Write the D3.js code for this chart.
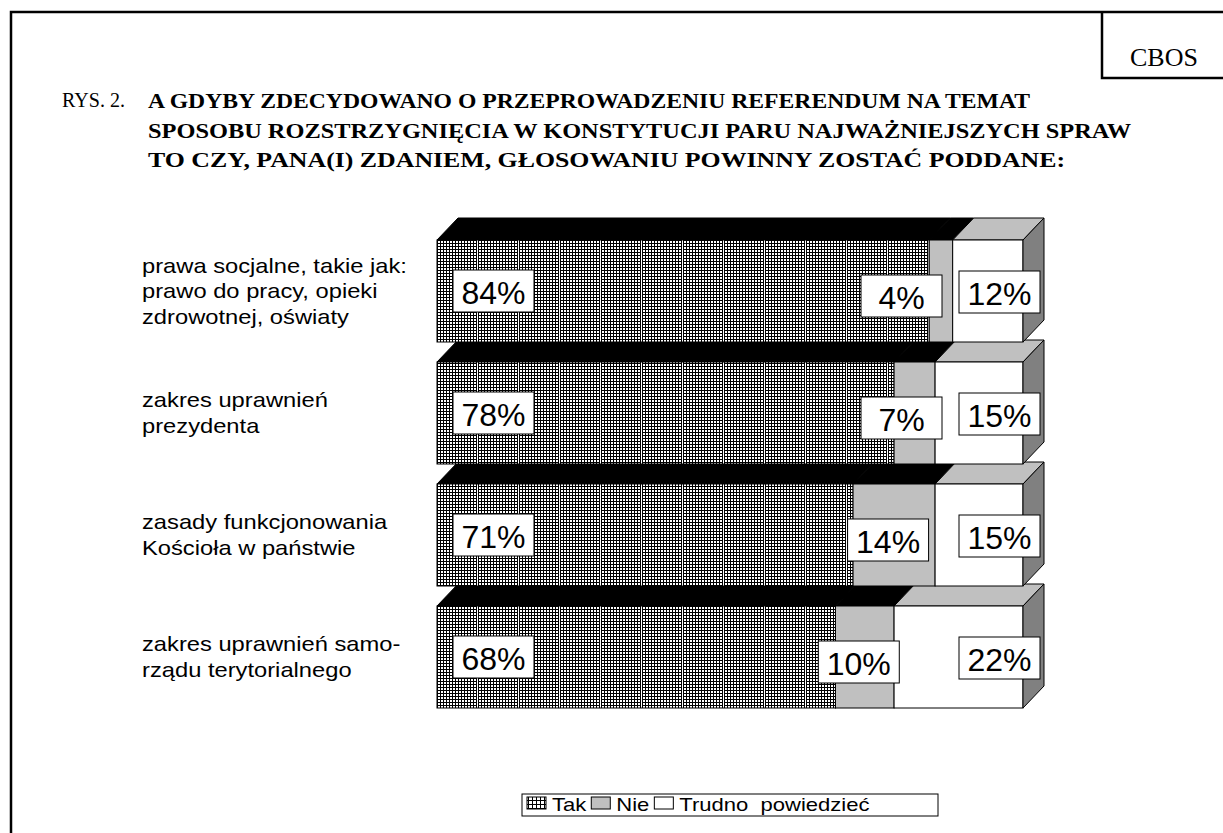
<!DOCTYPE html>
<html>
<head>
<meta charset="utf-8">
<script src="https://cdn.jsdelivr.net/npm/d3@7"></script>
<style>
  body { margin: 0; background: #fff; }
</style>
</head>
<body>
<div id="chart"></div>
<script>
// Referendum question — stacked 3D bars, CBOS style

const categories = [
    ['prawa socjalne, takie jak:', 'prawo do pracy, opieki', 'zdrowotnej, oświaty'],
    ['zakres uprawnień', 'prezydenta'],
    ['zasady funkcjonowania', 'Kościoła w państwie'],
    ['zakres uprawnień samo-', 'rządu terytorialnego']
];
const seriesNames = ['Tak', 'Nie', 'Trudno  powiedzieć'];
const tak = [84, 78, 71, 68];
const nie = [4, 7, 14, 10];
const trudno = [12, 15, 15, 22];
const titlePrefix = 'RYS. 2.';
const titleLines = [
    'A GDYBY ZDECYDOWANO O PRZEPROWADZENIU REFERENDUM NA TEMAT',
    'SPOSOBU ROZSTRZYGNIĘCIA W KONSTYTUCJI PARU NAJWAŻNIEJSZYCH SPRAW',
    'TO CZY, PANA(I) ZDANIEM, GŁOSOWANIU POWINNY ZOSTAĆ PODDANE:'
];
const sourceLabel = 'CBOS';

(function () {
    const W = 1223, H = 833;
    const depthX = 21, depthY = 22;
    const serif = '"Liberation Serif", "Times New Roman", serif';
    const sans = 'Arial, "Liberation Sans", sans-serif';

    const svg = d3.select('#chart').append('svg')
        .attr('width', W).attr('height', H)
        .style('display', 'block');

    const defs = svg.append('defs');
    // fine grid used for "Tak", with the faint tiling seam every ~41px
    const pat = defs.append('pattern')
        .attr('id', 'grid').attr('patternUnits', 'userSpaceOnUse')
        .attr('x', 437).attr('y', 0).attr('width', 41).attr('height', 3);
    pat.append('rect').attr('width', 41).attr('height', 3).attr('fill', '#fff');
    pat.append('rect').attr('width', 40).attr('height', 1).attr('fill', '#000');
    d3.range(0, 40, 3).forEach(x => {
        pat.append('rect').attr('x', x).attr('width', 1).attr('height', 3).attr('fill', '#000');
    });
    const lpat = defs.append('pattern')
        .attr('id', 'gridSmall').attr('patternUnits', 'userSpaceOnUse')
        .attr('width', 4).attr('height', 4);
    lpat.append('rect').attr('width', 4).attr('height', 4).attr('fill', '#fff');
    lpat.append('rect').attr('width', 4).attr('height', 1).attr('fill', '#000');
    lpat.append('rect').attr('width', 1).attr('height', 4).attr('fill', '#000');

    // Frame + CBOS box
    svg.append('path')
        .attr('d', `M11,${H} L11,12 L${W},12`)
        .attr('fill', 'none').attr('stroke', '#000').attr('stroke-width', 2.5);
    svg.append('path')
        .attr('d', `M1102,12 L1102,78 L${W},78`)
        .attr('fill', 'none').attr('stroke', '#000').attr('stroke-width', 2.5);
    svg.append('text')
        .attr('x', 1164).attr('y', 66)
        .attr('text-anchor', 'middle')
        .attr('font-family', serif)
        .attr('font-size', '26px')
        .text(sourceLabel);

    // Title (the scan is stretched horizontally, so fit each line to its width)
    svg.append('text')
        .attr('x', 62).attr('y', 107)
        .attr('font-family', serif)
        .attr('font-size', '20px')
        .attr('textLength', 63).attr('lengthAdjust', 'spacingAndGlyphs')
        .text(titlePrefix);
    const titleWidths = [882, 983, 917];
    titleLines.forEach((line, i) => {
        svg.append('text')
            .attr('x', 148).attr('y', 108 + i * 29.5)
            .attr('font-family', serif)
            .attr('font-weight', 'bold')
            .attr('font-size', '20px')
            .attr('textLength', titleWidths[i]).attr('lengthAdjust', 'spacingAndGlyphs')
            .text(line);
    });

    // Scales
    const x = d3.scaleLinear().domain([0, 100]).range([437, 1023]);
    const y = d3.scaleBand()
        .domain(d3.range(categories.length))
        .range([240, 708])
        .paddingInner(20 / 122)
        .paddingOuter(0);

    const series = [tak, nie, trudno];
    const stacked = categories.map((_, i) => {
        let acc = 0;
        return series.map((s, k) => {
            const seg = { k, i, v: s[i], x0: acc, x1: acc + s[i] };
            acc += s[i];
            return seg;
        });
    });

    const frontFill = ['url(#grid)', '#c0c0c0', '#fff'];
    const topFill = ['#000', '#000', '#c0c0c0'];
    const sideFill = '#808080';

    // bottom rows first so upper bars overlap the top faces below them
    const rows = svg.append('g');
    d3.range(categories.length).reverse().forEach(i => {
        const g = rows.append('g');
        const y0 = y(i), bh = y.bandwidth();
        stacked[i].forEach(seg => {
            const xa = x(seg.x0), xb = x(seg.x1);
            g.append('path')
                .attr('d', `M${xa},${y0} L${xa + depthX},${y0 - depthY} L${xb + depthX},${y0 - depthY} L${xb},${y0} Z`)
                .attr('fill', topFill[seg.k])
                .attr('stroke', '#000').attr('stroke-width', 1);
        });
        stacked[i].forEach(seg => {
            g.append('rect')
                .attr('x', x(seg.x0)).attr('y', y0)
                .attr('width', x(seg.x1) - x(seg.x0)).attr('height', bh)
                .attr('fill', frontFill[seg.k])
                .attr('stroke', '#000').attr('stroke-width', 1);
        });
        const last = stacked[i][stacked[i].length - 1];
        const xe = x(last.x1);
        g.append('path')
            .attr('d', `M${xe},${y0} L${xe + depthX},${y0 - depthY} L${xe + depthX},${y0 + bh - depthY} L${xe},${y0 + bh} Z`)
            .attr('fill', sideFill)
            .attr('stroke', '#000').attr('stroke-width', 1);
    });

    // Value labels in white boxes
    const labels = svg.append('g')
        .attr('font-family', sans)
        .attr('font-size', '32px');
    const boxW = 81, boxH = 42;
    stacked.forEach(row => {
        const mid = y(row[0].i) + y.bandwidth() / 2;
        const trLeft = x(100) + 17 - boxW;
        row.forEach(seg => {
            let cx, cy;
            if (seg.k === 0) {
                cx = x(0) + 16 + boxW / 2; cy = mid;
            } else if (seg.k === 1) {
                cx = Math.min((x(seg.x0) + x(seg.x1)) / 2 - 6, trLeft - 17 - boxW / 2);
                cy = mid + 5;
            } else {
                cx = trLeft + boxW / 2; cy = mid + 1;
            }
            const lg = labels.append('g');
            lg.append('rect')
                .attr('x', cx - boxW / 2).attr('y', cy - boxH / 2)
                .attr('width', boxW).attr('height', boxH)
                .attr('fill', '#fff').attr('stroke', '#000').attr('stroke-width', 1);
            lg.append('text')
                .attr('x', cx).attr('y', cy + 13)
                .attr('text-anchor', 'middle')
                .text(seg.v + '%');
        });
    });

    // Category labels
    const sx = 1.13;
    const cat = svg.append('g')
        .attr('font-family', sans)
        .attr('font-size', '21px')
        .attr('fill', '#000');
    categories.forEach((lines, i) => {
        const cy = y(i) + y.bandwidth() / 2;
        const lh = 25.5;
        const first = cy - (lines.length - 1) * lh / 2 + 7;
        lines.forEach((l, j) => {
            cat.append('text')
                .attr('transform', `translate(142,${first + j * lh}) scale(${sx},1)`)
                .text(l);
        });
    });

    // Legend
    const leg = svg.append('g')
        .attr('font-family', sans)
        .attr('font-size', '19px');
    leg.append('rect')
        .attr('x', 522).attr('y', 794).attr('width', 416).attr('height', 22)
        .attr('fill', '#fff').attr('stroke', '#000').attr('stroke-width', 1);
    const swFill = ['url(#gridSmall)', '#c0c0c0', '#fff'];
    const lsx = 1.16;
    let lx = 527;
    seriesNames.forEach((name, k) => {
        leg.append('rect')
            .attr('x', lx).attr('y', 797).attr('width', 19).attr('height', 12)
            .attr('fill', swFill[k]).attr('stroke', '#000').attr('stroke-width', 1);
        const t = leg.append('text')
            .attr('transform', `translate(${lx + 25},811) scale(${lsx},1)`)
            .style('white-space', 'pre')
            .text(name);
        lx += 25 + t.node().getComputedTextLength() * lsx + 5;
    });
})();
</script>
</body>
</html>
